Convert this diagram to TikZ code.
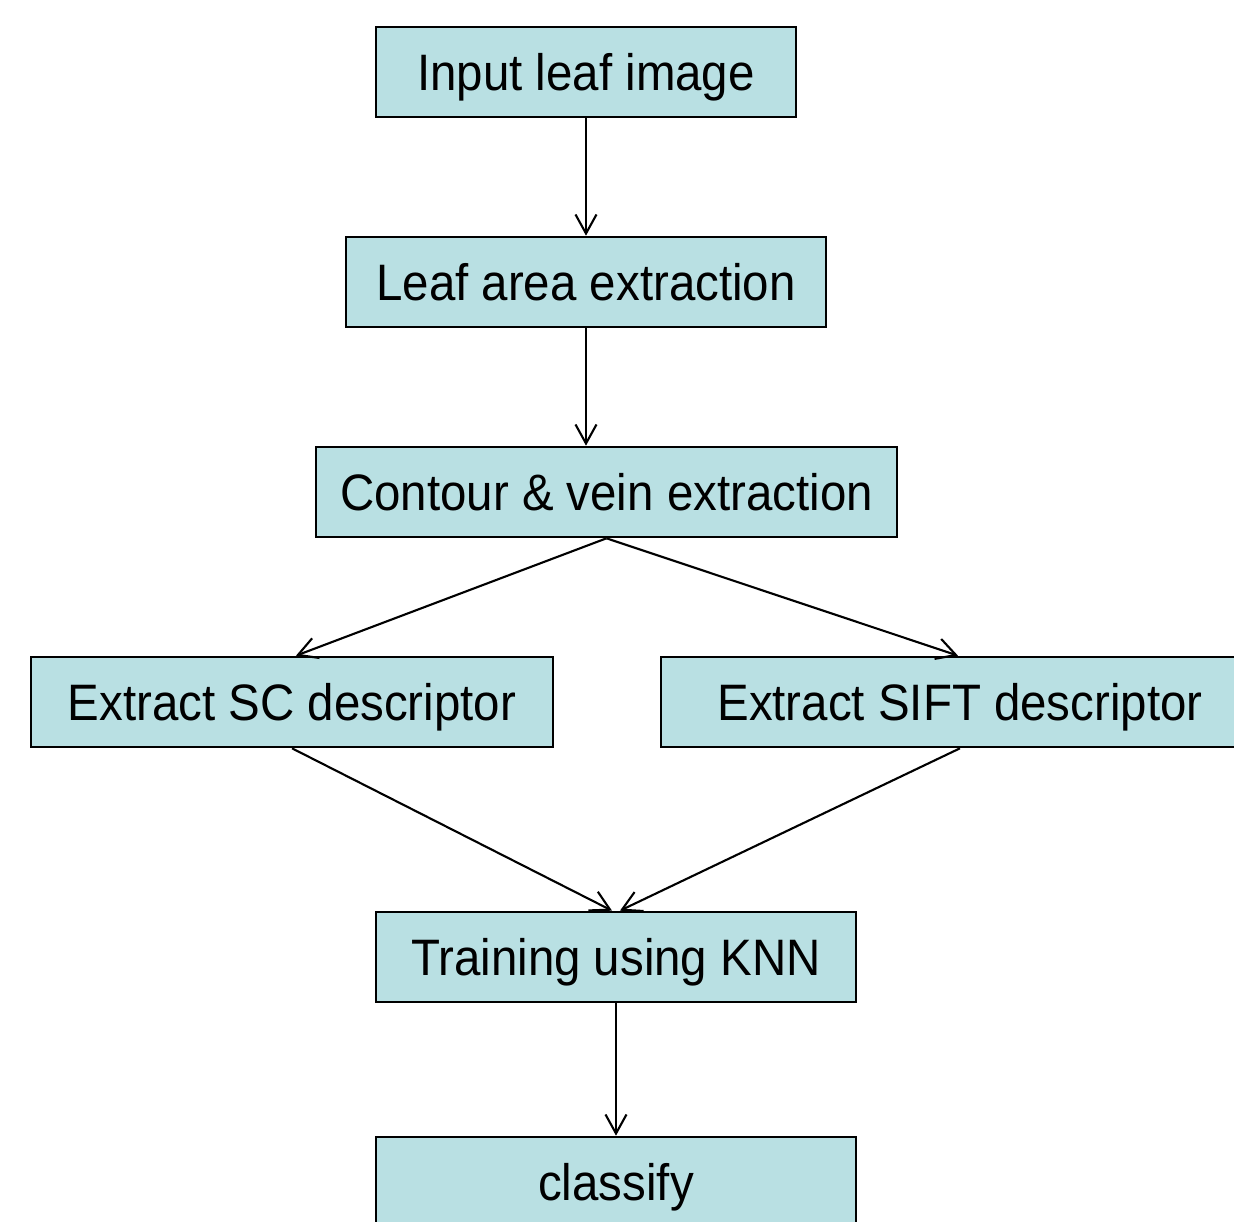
\documentclass[tikz,border=0pt]{standalone}
\usepackage{fontspec}
\setmainfont{Liberation Sans}
\usepackage{xcolor}
\usepackage{graphicx}
\usepackage{tikz}
\usetikzlibrary{arrows.meta}
\definecolor{boxfill}{HTML}{B9E0E3}
\definecolor{ink}{HTML}{000000}
\newcommand{\tallbox}[1]{\scalebox{1}[1.08]{#1}}
\tikzset{
  stage/.style={draw=ink, fill=boxfill, line width=0.75pt, inner sep=0pt,
    minimum height=0.9cm, text height=10.4pt, text depth=0pt,
    font=\fontsize{13.5}{16}\selectfont},
  flow/.style={draw=ink, line width=0.6pt,
    -{Straight Barb[length=1.9mm, width=2.1mm, line width=0.6pt]}},
}

\begin{document}
\begin{tikzpicture}
  \useasboundingbox (0,0) rectangle (12.34,-12.22);
  \clip (0,0) rectangle (12.34,-12.22);

  \node[stage, minimum width=4.20cm] (input)    at (5.86,-0.72)  {\tallbox{Input leaf image}};
  \node[stage, minimum width=4.80cm] (area)     at (5.86,-2.82)  {\tallbox{Leaf area extraction}};
  \node[stage, minimum width=5.81cm] (contour)  at (6.065,-4.92) {\tallbox{Contour \& vein extraction}};
  \node[stage, minimum width=5.22cm] (sc)       at (2.92,-7.02)  {\tallbox{Extract SC descriptor}};
  \node[stage, minimum width=5.98cm] (sift)     at (9.60,-7.02)  {\tallbox{Extract SIFT descriptor}};
  \node[stage, minimum width=4.80cm] (knn)      at (6.16,-9.57)  {\tallbox{Training using KNN}};
  \node[stage, minimum width=4.80cm] (classify) at (6.16,-11.82) {\tallbox{classify}};

  \draw[flow] (input.south) -- (area.north);
  \draw[flow] (area.south) -- (area.south |- contour.north);
  \draw[flow] (contour.south) -- ([xshift=0.04cm]sc.north);
  \draw[flow] (contour.south) -- ([xshift=-0.02cm]sift.north);
  \draw[flow] (sc.south) -- ([xshift=-0.04cm]knn.north);
  \draw[flow] (sift.south) -- ([xshift=0.04cm]knn.north);
  \draw[flow] (knn.south) -- (classify.north);
\end{tikzpicture}
\end{document}
